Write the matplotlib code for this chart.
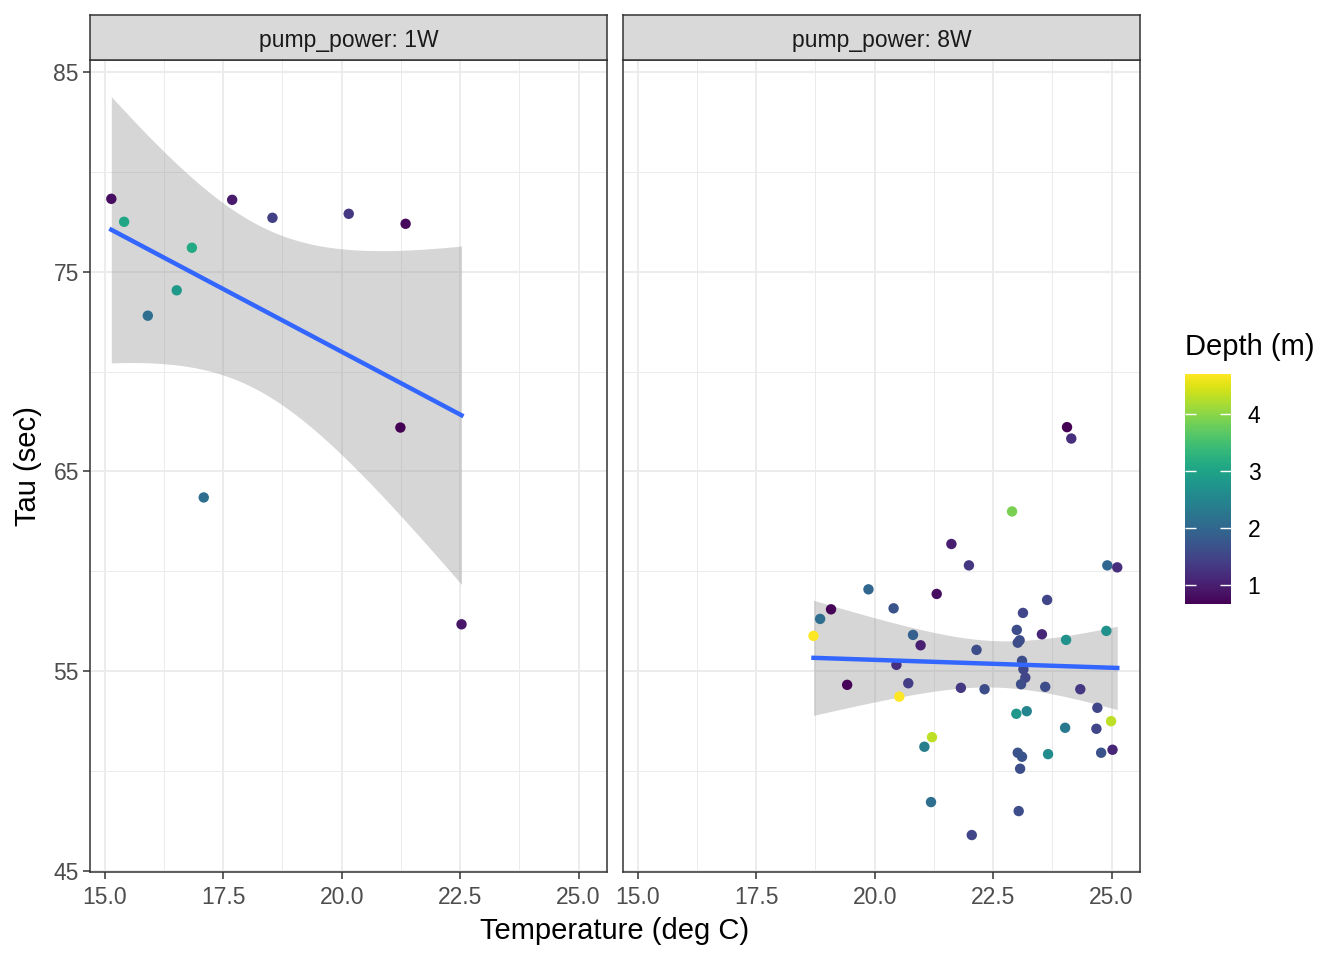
import math
import numpy as np
import matplotlib
matplotlib.use('Agg')
import matplotlib.pyplot as plt
from matplotlib import colors, cm

plt.rcParams['font.family'] = ['Liberation Sans', 'DejaVu Sans']

# pump_power: 1W
temp_1w = [15.14, 15.41, 16.84, 16.52, 15.91, 17.09, 17.69, 18.54, 20.15, 21.35, 21.24, 22.53]
tau_1w = [78.65, 77.5, 76.2, 74.07, 72.8, 63.7, 78.6, 77.7, 77.9, 77.4, 67.2, 57.35]
depth_1w = [0.8, 3.05, 3.1, 2.85, 2.1, 2.1, 0.95, 1.45, 1.3, 0.75, 0.66, 0.9]

# pump_power: 8W
temp_8w = [24.06, 24.15, 22.90, 21.62, 21.99, 24.91, 25.12, 19.87, 21.31, 19.08,
           20.40, 23.64, 23.13, 18.85, 18.71, 23.00, 23.53, 24.89, 24.04, 20.81,
           20.97, 23.02, 23.06, 22.15, 20.46, 23.11, 23.14, 23.18, 23.09, 19.42,
           20.71, 21.82, 22.32, 23.60, 24.34, 20.52, 24.70, 22.99, 23.21, 24.99,
           24.02, 24.68, 21.21, 21.05, 23.02, 23.11, 23.66, 24.78, 25.02, 23.07,
           21.19, 23.04, 22.05]
tau_8w = [67.22, 66.65, 63.0, 61.37, 60.3, 60.3, 60.2, 59.1, 58.87, 58.1,
          58.15, 58.57, 57.92, 57.62, 56.77, 57.07, 56.85, 57.02, 56.57, 56.82,
          56.3, 56.43, 56.55, 56.07, 55.32, 55.52, 55.1, 54.68, 54.35, 54.32,
          54.4, 54.17, 54.1, 54.22, 54.1, 53.73, 53.17, 52.87, 53.0, 52.5,
          52.17, 52.12, 51.7, 51.22, 50.92, 50.72, 50.85, 50.92, 51.07, 50.12,
          48.45, 48.0, 46.8]
depth_8w = [0.66, 1.2, 3.9, 1.0, 1.3, 2.0, 1.2, 2.0, 0.8, 0.7,
            1.7, 1.5, 1.5, 2.1, 4.71, 1.6, 1.1, 2.7, 2.7, 1.9,
            1.0, 1.6, 1.6, 1.6, 1.2, 1.6, 1.5, 1.5, 1.6, 0.7,
            1.4, 1.3, 1.6, 1.6, 1.3, 4.71, 1.5, 2.8, 2.5, 4.3,
            2.3, 1.5, 4.3, 2.4, 1.7, 1.7, 2.6, 1.7, 1.1, 1.6,
            2.1, 1.6, 1.5]

panels = [('pump_power: 1W', temp_1w, tau_1w, depth_1w),
          ('pump_power: 8W', temp_8w, tau_8w, depth_8w)]

x_ticks = [15.0, 17.5, 20.0, 22.5, 25.0]
y_ticks = [45, 55, 65, 75, 85]
cbar_ticks = [1, 2, 3, 4]


def t_quantile(p, df):
    xs = np.linspace(0, 30, 300001)
    c = math.exp(math.lgamma((df + 1) / 2) - math.lgamma(df / 2)) / math.sqrt(df * math.pi)
    pdf = c * (1 + xs ** 2 / df) ** (-(df + 1) / 2)
    cdf = 0.5 + np.concatenate([[0], np.cumsum((pdf[1:] + pdf[:-1]) / 2 * np.diff(xs))])
    return np.interp(p, cdf, xs)


def lm_band(x, y):
    x = np.asarray(x)
    y = np.asarray(y)
    n = len(x)
    b, a = np.polyfit(x, y, 1)
    resid = y - (a + b * x)
    s = np.sqrt(np.sum(resid ** 2) / (n - 2))
    sxx = np.sum((x - x.mean()) ** 2)
    xs = np.linspace(x.min(), x.max(), 80)
    fit = a + b * xs
    se = s * np.sqrt(1 / n + (xs - x.mean()) ** 2 / sxx)
    t = t_quantile(0.975, n - 2)
    return xs, fit, fit - t * se, fit + t * se


all_depth = depth_1w + depth_8w
norm = colors.Normalize(min(all_depth), max(all_depth))
cmap = plt.get_cmap('viridis')

W, H = 1344, 960
fig = plt.figure(figsize=(W / 100, H / 100), dpi=100)

grey20 = '#333333'
lefts = [90, 623]
for i, (label, tx, ty, dep) in enumerate(panels):
    left = lefts[i]
    ax = fig.add_axes([left / W, (H - 872) / H, 517 / W, 812 / H])
    ax.set_xlim(14.69, 25.6)
    ax.set_ylim(44.95, 85.6)
    ax.set_xticks(x_ticks)
    ax.set_xticklabels(['%.1f' % v for v in x_ticks])
    ax.set_xticks([16.25, 18.75, 21.25, 23.75], minor=True)
    ax.set_yticks(y_ticks)
    ax.set_yticks([50, 60, 70, 80], minor=True)
    ax.grid(True, which='major', color='#ebebeb', lw=1.3)
    ax.grid(True, which='minor', color='#ebebeb', lw=0.7)
    ax.set_axisbelow(True)
    for sp in ax.spines.values():
        sp.set_color(grey20)
        sp.set_linewidth(1.1)
    ax.tick_params(which='major', length=5, width=1.1, color=grey20,
                   labelsize=16.5, labelcolor='#4d4d4d', pad=3)
    ax.tick_params(axis='x', which='major', pad=5)
    ax.tick_params(which='minor', length=0)
    if i == 1:
        ax.tick_params(axis='y', which='major', length=0, labelleft=False)

    xs, fit, lo, hi = lm_band(tx, ty)
    ax.fill_between(xs, lo, hi, color='#999999', alpha=0.4, lw=0, zorder=2)
    ax.scatter(tx, ty, c=dep, cmap=cmap, norm=norm, s=56, lw=0, zorder=3)
    ax.plot(xs, fit, color='#3366FF', lw=3.2, zorder=4)

    strip = fig.add_axes([left / W, (H - 60) / H, 517 / W, 45 / H])
    strip.set_facecolor('#d9d9d9')
    strip.set_xticks([])
    strip.set_yticks([])
    for sp in strip.spines.values():
        sp.set_color(grey20)
        sp.set_linewidth(1.1)
    strip.text(0.5, 0.44, label, ha='center', va='center', fontsize=16.5,
               color='#1a1a1a', transform=strip.transAxes)

fig.text(615 / W, 1 - 931 / H, 'Temperature (deg C)', ha='center', va='center', fontsize=21)
fig.text(28 / W, 1 - 466 / H, 'Tau (sec)', ha='center', va='center', fontsize=21, rotation=90)

cax = fig.add_axes([1185 / W, (H - 604) / H, 46 / W, 230 / H])
cb = fig.colorbar(cm.ScalarMappable(norm=norm, cmap=cmap), cax=cax, ticks=cbar_ticks)
cb.outline.set_visible(False)
cax.tick_params(direction='in', left=True, right=True, color='white', width=1,
                length=8, labelsize=16.5, labelcolor='black', pad=12)
fig.text(1185 / W, 1 - 347 / H, 'Depth (m)', ha='left', va='center', fontsize=21)

fig.savefig('out.png', dpi=100)
